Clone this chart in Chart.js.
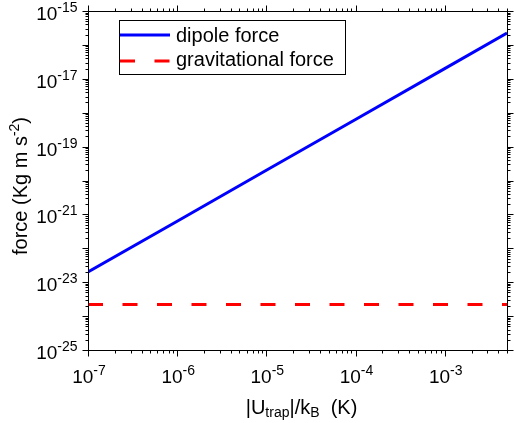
<!DOCTYPE html>
<html><head><meta charset="utf-8">
<script src="https://cdn.jsdelivr.net/npm/chart.js@4.4.0/dist/chart.umd.min.js"></script>
<style>html,body{margin:0;padding:0;background:#fff}</style>
</head><body>
<canvas id="c" width="514" height="423"></canvas>
<script>
// ---- data ----
const trapDepth   = [1e-7, 1e-6, 1e-5, 1e-4, 1e-3, 5e-3];           // |U_trap|/k_B (K)
const dipoleForce = [2.0e-23, 6.3e-22, 2.0e-20, 6.3e-19, 2.0e-17, 2.24e-16];
const gravForce   = [2.2e-24, 2.2e-24, 2.2e-24, 2.2e-24, 2.2e-24, 2.2e-24];
const seriesLabels = ['dipole force', 'gravitational force'];
const xTickExps = [-7, -6, -5, -4, -3];
const yTickExps = [-15, -17, -19, -21, -23, -25];
const xRange = [1e-7, 5e-3];
const yRange = [1e-25, 1e-15];

const FONT = '"Liberation Sans", Arial, Helvetica, sans-serif';
Chart.defaults.font.family = FONT;

function pts(xs, ys) { return xs.map((x, i) => ({ x: x, y: ys[i] })); }

function drawPowerLabel(ctx, exp, x, y, align) {
  // "10" at 19px with superscript exponent at 14px
  const base = '10', sup = '-' + Math.abs(exp);
  ctx.font = '19px ' + FONT;
  const wb = ctx.measureText(base).width;
  ctx.font = '14px ' + FONT;
  const ws = ctx.measureText(sup).width;
  const total = wb + ws;
  let x0 = align === 'center' ? x - total / 2 : x - total;
  ctx.textAlign = 'left';
  ctx.textBaseline = 'alphabetic';
  ctx.font = '19px ' + FONT;
  ctx.fillText(base, x0, y);
  ctx.font = '14px ' + FONT;
  ctx.fillText(sup, x0 + wb, y - 8);
}

const framePlugin = {
  id: 'frame',
  afterDraw(chart) {
    const ctx = chart.ctx, a = chart.chartArea;
    const xs = chart.scales.x, ys = chart.scales.y;
    ctx.save();
    ctx.strokeStyle = '#000';
    ctx.fillStyle = '#000';
    ctx.lineWidth = 1;
    const L = Math.round(a.left) + 0.5, R = Math.round(a.right) + 0.5;
    const T = Math.round(a.top) + 0.5, B = Math.round(a.bottom) + 0.5;
    ctx.strokeRect(L, T, R - L, B - T);
    // ticks
    ctx.beginPath();
    for (let n = -8; n <= -2; n++) {
      for (let k = 1; k <= 9; k++) {
        const v = k * Math.pow(10, n);
        if (v < xRange[0] * 0.999 || v > xRange[1] * 1.001) continue;
        const p = Math.round(xs.getPixelForValue(v)) + 0.5;
        const len = k === 1 ? 6 : 3;
        ctx.moveTo(p, B); ctx.lineTo(p, B + len);
        ctx.moveTo(p, T); ctx.lineTo(p, T - len);
      }
    }
    for (let n = -26; n <= -15; n++) {
      for (let k = 1; k <= 9; k++) {
        const v = k * Math.pow(10, n);
        if (v < yRange[0] * 0.999 || v > yRange[1] * 1.001) continue;
        const p = Math.round(ys.getPixelForValue(v)) + 0.5;
        const len = k === 1 ? 6 : 3;
        ctx.moveTo(L, p); ctx.lineTo(L - len, p);
        ctx.moveTo(R, p); ctx.lineTo(R + len, p);
      }
    }
    ctx.stroke();
    // tick labels
    xTickExps.forEach(e => {
      const p = xs.getPixelForValue(Math.pow(10, e));
      drawPowerLabel(ctx, e, p + 1, B + 32, 'center');
    });
    yTickExps.forEach(e => {
      const p = ys.getPixelForValue(Math.pow(10, e));
      drawPowerLabel(ctx, e, L - 11, p + 9, 'right');
    });
    // x title: |U_trap|/k_B  (K)
    ctx.textBaseline = 'alphabetic';
    ctx.textAlign = 'left';
    const parts = [['|U', 20, 0], ['trap', 14, 3], ['|/k', 20, 0], ['B', 14, 3], ['  (K)', 20, 0]];
    let tw = 0;
    parts.forEach(p => { ctx.font = p[1] + 'px ' + FONT; tw += ctx.measureText(p[0]).width; });
    let cx = (a.left + a.right) / 2 + 4 - tw / 2;
    parts.forEach(p => {
      ctx.font = p[1] + 'px ' + FONT;
      ctx.fillText(p[0], cx, 414 + p[2]);
      cx += ctx.measureText(p[0]).width;
    });
    // y title: force (Kg m s^-2)
    ctx.save();
    ctx.translate(27, 186);
    ctx.rotate(-Math.PI / 2);
    const yparts = [['force (Kg m s', 20, 0], ['-2', 14, -8], [')', 20, 0]];
    let yw = 0;
    yparts.forEach(p => { ctx.font = p[1] + 'px ' + FONT; yw += ctx.measureText(p[0]).width; });
    let yx = -yw / 2;
    yparts.forEach(p => {
      ctx.font = p[1] + 'px ' + FONT;
      ctx.fillText(p[0], yx, p[2]);
      yx += ctx.measureText(p[0]).width;
    });
    ctx.restore();
    // legend
    ctx.lineWidth = 1;
    ctx.strokeStyle = '#000';
    ctx.strokeRect(119.5, 20.5, 226, 54);
    const rowsLine = [35, 61], rowsText = [42, 66];
    chart.data.datasets.forEach((ds, i) => {
      ctx.save();
      ctx.strokeStyle = ds.borderColor;
      ctx.lineWidth = ds.borderWidth;
      ctx.setLineDash(ds.borderDash || []);
      ctx.beginPath();
      ctx.moveTo(120, rowsLine[i]);
      ctx.lineTo(170, rowsLine[i]);
      ctx.stroke();
      ctx.restore();
      ctx.font = '20px ' + FONT;
      ctx.fillStyle = '#000';
      ctx.textAlign = 'left';
      ctx.fillText(ds.label, 176, rowsText[i]);
    });
    ctx.restore();
  }
};

new Chart(document.getElementById('c'), {
  type: 'scatter',
  data: {
    datasets: [
      { label: seriesLabels[0], data: pts(trapDepth, dipoleForce), showLine: true,
        borderColor: '#0000ff', borderWidth: 3, pointRadius: 0, tension: 0, fill: false },
      { label: seriesLabels[1], data: pts(trapDepth, gravForce), showLine: true,
        borderColor: '#ff0000', borderWidth: 3, borderDash: [15, 19.5], pointRadius: 0, tension: 0, fill: false }
    ]
  },
  options: {
    responsive: false,
    animation: false,
    devicePixelRatio: 1,
    layout: { padding: { left: 0, right: 7, top: 11, bottom: 0 } },
    plugins: { legend: { display: false }, tooltip: { enabled: false } },
    scales: {
      x: { type: 'logarithmic', min: xRange[0], max: xRange[1],
           grid: { display: false }, border: { display: false },
           ticks: { display: false },
           afterFit: s => { s.height = 73; } },
      y: { type: 'logarithmic', min: yRange[0], max: yRange[1],
           grid: { display: false }, border: { display: false },
           ticks: { display: false },
           afterFit: s => { s.width = 88; } }
    }
  },
  plugins: [framePlugin]
});
</script>
</body></html>
